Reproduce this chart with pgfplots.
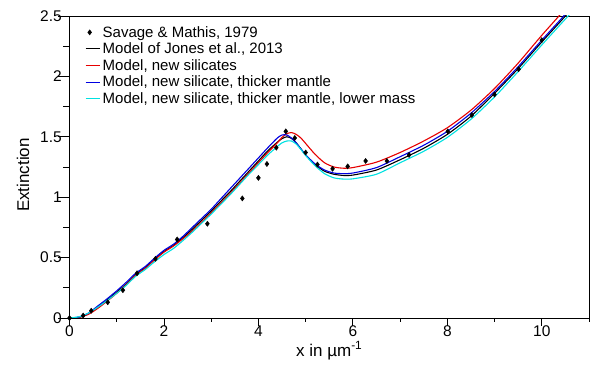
\documentclass[border=0pt]{standalone}
\usepackage{pgfplots}
\pgfplotsset{compat=1.18}
\usepackage{fontspec}
\setmainfont{Liberation Sans}
\usetikzlibrary{calc}
\definecolor{cred}{RGB}{230,0,0}
\definecolor{cblue}{RGB}{0,0,225}
\definecolor{ccyan}{RGB}{0,225,225}
\definecolor{frame}{RGB}{100,100,100}
\pgfplotsset{
  linelegend/.style={legend image code/.code={\path[draw=none,fill=none] (-1pt,0pt) -- (15pt,0pt);\draw[##1] (0pt,0pt) -- (14pt,0pt);}},
  ptlegend/.style={legend image code/.code={\path[draw=none,fill=none] (-1pt,0pt) -- (15pt,0pt);\draw[##1] plot coordinates {(4pt,0pt)};}},
}
\begin{document}
\begin{tikzpicture}
\begin{axis}[
  scale only axis,
  width=519.5pt, height=302pt,
  xmin=0, xmax=11, ymin=0, ymax=2.5,
  xtick={0,2,4,6,8,10},
  minor xtick={1,3,5,7,9,11},
  ytick={0,0.5,1,1.5,2,2.5},
  minor ytick={0.25,0.75,1.25,1.75,2.25},
  yticklabels={0,0.5,1,1.5,2,2.5},
  xticklabels={0,2,4,6,8,10},
  tick pos=left,
  tick align=outside,
  x tick style={black, line width=0.8pt},
  y tick style={black, line width=0.8pt},
  xtick style={/pgfplots/major tick length=8pt},
  ytick style={/pgfplots/major tick length=11pt},
  minor x tick style={/pgfplots/minor tick length=4pt},
  minor y tick style={/pgfplots/minor tick length=6pt},
  axis line style={frame, line width=0.9pt},
  separate axis lines,
  every outer y axis line/.append style={black},
  every outer x axis line/.append style={black},
  ticklabel style={font=\fontsize{15.5}{18}\selectfont},
  /pgf/number format/assume math mode=true,
  xlabel={x in µm\textsuperscript{-1}},
  ylabel={Extinction},
  xlabel style={font=\fontsize{17}{20}\selectfont, yshift=2pt},
  ylabel style={font=\fontsize{17}{20}\selectfont, yshift=4pt, xshift=-8pt},
  legend style={draw=none, fill=none, at={(0,1)}, anchor=north west,
    xshift=12pt, yshift=-6pt,
    font=\fontsize{15}{17}\selectfont, row sep=0.2pt},
  legend cell align=left,
]
\addlegendimage{only marks, mark=diamond*, mark size=2.6pt, black, ptlegend}
\addlegendentry{Savage \& Mathis, 1979}
\addlegendimage{black, line width=1.1pt, linelegend}
\addlegendentry{Model of Jones et al., 2013}
\addlegendimage{cred, line width=1.1pt, linelegend}
\addlegendentry{Model, new silicates}
\addlegendimage{cblue, line width=1.1pt, linelegend}
\addlegendentry{Model, new silicate, thicker mantle}
\addlegendimage{ccyan, line width=1.1pt, linelegend}
\addlegendentry{Model, new silicate, thicker mantle, lower mass}

\addplot[black, line width=1.1pt, smooth, tension=0.4, forget plot] coordinates {
(0,0) (0.2,0.005) (0.4,0.035) (0.6,0.09) (0.8,0.15) (1.0,0.215) (1.2,0.28) (1.4,0.36) (1.6,0.415) (1.8,0.485) (2.0,0.55) (2.2,0.60) (2.4,0.665) (2.6,0.735) (2.8,0.81) (3.0,0.885) (3.2,0.965) (3.4,1.045) (3.6,1.13) (3.8,1.215) (4.0,1.30) (4.2,1.385) (4.4,1.455) (4.5,1.485) (4.6,1.50) (4.7,1.487) (4.8,1.45) (4.9,1.40) (5.0,1.35) (5.2,1.27) (5.4,1.215) (5.6,1.19) (5.8,1.18) (6.0,1.183) (6.5,1.225) (7.0,1.31) (7.5,1.405) (8.0,1.52) (8.5,1.67) (9.0,1.86) (9.5,2.065) (10.0,2.285) (10.5,2.50) (11.0,2.73)};

\addplot[cred, line width=1.1pt, smooth, tension=0.4, forget plot] coordinates {
(0,0) (0.2,0.005) (0.4,0.03) (0.6,0.08) (0.8,0.14) (1.0,0.205) (1.2,0.275) (1.4,0.355) (1.6,0.41) (1.8,0.48) (2.0,0.545) (2.2,0.595) (2.4,0.655) (2.6,0.72) (2.8,0.795) (3.0,0.87) (3.2,0.95) (3.4,1.03) (3.6,1.115) (3.8,1.20) (4.0,1.285) (4.2,1.37) (4.4,1.45) (4.5,1.495) (4.6,1.525) (4.7,1.535) (4.8,1.52) (4.9,1.49) (5.0,1.445) (5.2,1.355) (5.4,1.285) (5.6,1.25) (5.8,1.24) (6.0,1.245) (6.5,1.29) (7.0,1.37) (7.5,1.465) (8.0,1.575) (8.5,1.72) (9.0,1.90) (9.5,2.11) (10.0,2.34) (10.5,2.56) (11.0,2.79)};

\addplot[cblue, line width=1.1pt, smooth, tension=0.4, forget plot] coordinates {
(0,0) (0.2,0.008) (0.4,0.04) (0.6,0.10) (0.8,0.16) (1.0,0.225) (1.2,0.295) (1.4,0.37) (1.6,0.425) (1.8,0.495) (2.0,0.56) (2.2,0.61) (2.4,0.675) (2.6,0.75) (2.8,0.825) (3.0,0.90) (3.2,0.985) (3.4,1.07) (3.6,1.155) (3.8,1.24) (4.0,1.325) (4.2,1.41) (4.4,1.49) (4.5,1.515) (4.6,1.515) (4.7,1.49) (4.8,1.45) (4.9,1.40) (5.0,1.35) (5.2,1.275) (5.4,1.225) (5.6,1.20) (5.8,1.195) (6.0,1.20) (6.5,1.245) (7.0,1.335) (7.5,1.43) (8.0,1.545) (8.5,1.695) (9.0,1.875) (9.5,2.08) (10.0,2.30) (10.5,2.515) (11.0,2.74)};

\addplot[ccyan, line width=1.1pt, smooth, tension=0.4, forget plot] coordinates {
(0,0) (0.2,0.01) (0.4,0.04) (0.6,0.09) (0.8,0.145) (1.0,0.205) (1.2,0.27) (1.4,0.345) (1.6,0.40) (1.8,0.465) (2.0,0.525) (2.2,0.575) (2.4,0.64) (2.6,0.71) (2.8,0.785) (3.0,0.86) (3.2,0.94) (3.4,1.02) (3.6,1.105) (3.8,1.19) (4.0,1.27) (4.2,1.35) (4.4,1.42) (4.5,1.45) (4.6,1.465) (4.7,1.465) (4.8,1.44) (4.9,1.395) (5.0,1.345) (5.2,1.26) (5.4,1.195) (5.6,1.16) (5.8,1.15) (6.0,1.152) (6.5,1.19) (7.0,1.285) (7.5,1.38) (8.0,1.495) (8.5,1.645) (9.0,1.83) (9.5,2.04) (10.0,2.26) (10.5,2.475) (11.0,2.69)};

\addplot[only marks, mark=diamond*, mark size=2.6pt, black, forget plot] coordinates {
(0,0) (0.29,0.02) (0.46,0.06) (0.81,0.13) (1.13,0.23) (1.43,0.37) (1.82,0.49) (2.28,0.65) (2.92,0.78) (3.66,0.99) (4.0,1.16) (4.18,1.275) (4.38,1.41) (4.58,1.545) (4.77,1.49) (5.0,1.37) (5.25,1.27) (5.57,1.235) (5.89,1.255) (6.27,1.30) (6.72,1.30) (7.19,1.35) (8.01,1.545) (8.52,1.68) (9.0,1.85) (9.51,2.06) (10.0,2.30)};
\end{axis}
\pgfresetboundingbox
\path[use as bounding box] ($(current axis.south west)+(-69.5pt,-56pt)$) rectangle ($(current axis.north east)+(11pt,16pt)$);
\end{tikzpicture}
\end{document}
